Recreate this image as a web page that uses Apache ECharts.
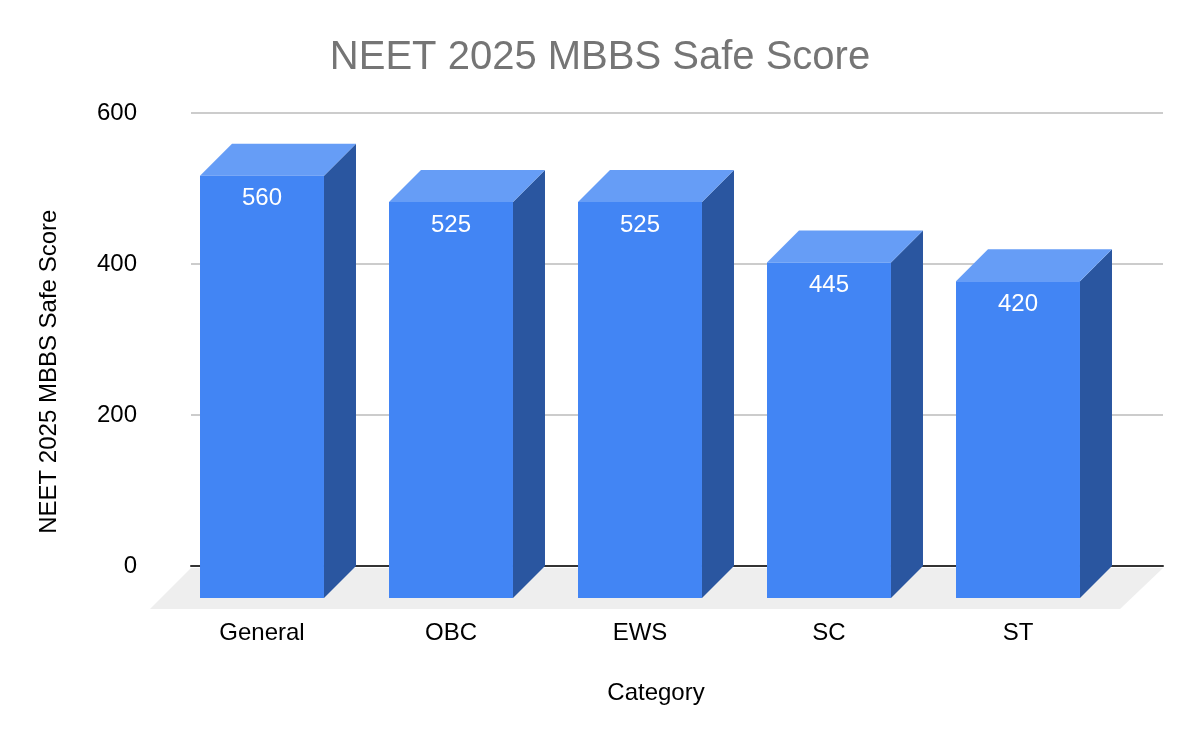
<!DOCTYPE html>
<html>
<head>
<meta charset="utf-8">
<style>html,body{margin:0;padding:0;background:#fff}#c{width:1200px;height:742px}</style>
<script src="https://cdn.jsdelivr.net/npm/echarts@6/dist/echarts.min.js"></script>
</head>
<body>
<div id="c"></div>
<script>
const categories = ['General', 'OBC', 'EWS', 'SC', 'ST'];
const scores = [560, 525, 525, 445, 420];
const yTicks = [0, 200, 400, 600];
const chartTitle = 'NEET 2025 MBBS Safe Score';
const xName = 'Category';
const yName = 'NEET 2025 MBBS Safe Score';

const FONT = '"Liberation Sans", Arial, sans-serif';
const DEPTH = 32;
const BAR_RATIO = 0.656;
const chart = echarts.init(document.getElementById('c'), null, {renderer: 'canvas'});

function renderBar(params, api) {
  const cat = api.value(0), val = api.value(1);
  const top = api.coord([cat, val]);
  const bottom = api.coord([cat, 0]);
  const w = api.size([1, 0])[0] * BAR_RATIO;
  const x0 = top[0] - w / 2, x1 = top[0] + w / 2, yT = top[1], yB = bottom[1];
  const poly = (points, fill) => ({type: 'polygon', shape: {points}, style: {fill, stroke: null}});
  return {
    type: 'group',
    children: [
      poly([[x1, yT], [x1 + DEPTH, yT - DEPTH], [x1 + DEPTH, yB - DEPTH], [x1, yB]], '#2a56a0'),
      poly([[x0, yT], [x0 + DEPTH, yT - DEPTH], [x1 + DEPTH, yT - DEPTH], [x1, yT]], '#669df6'),
      {type: 'rect', shape: {x: x0, y: yT, width: w, height: yB - yT}, style: {fill: '#4285f4'}},
      {type: 'text', style: {text: String(val), x: top[0], y: yT + 23, align: 'center', verticalAlign: 'middle',
        fill: '#ffffff', font: '24px ' + FONT}}
    ]
  };
}

function renderFloor(params, api) {
  const r = params.coordSys;
  const yB = r.y + r.height;
  return {
    type: 'polygon',
    shape: {points: [[r.x, yB + 2], [r.x + r.width, yB + 2], [r.x + r.width - 43, yB + 43], [r.x - 41, yB + 43]]},
    style: {fill: '#eeeeee', stroke: null}
  };
}

chart.setOption({
  animation: false,
  backgroundColor: '#ffffff',
  title: [
    {text: chartTitle, left: 595, top: 33, textAlign: 'center',
      textStyle: {color: '#757575', fontSize: 40, fontWeight: 'normal', fontFamily: FONT}},
    {text: xName, left: 651, top: 676, textAlign: 'center',
      textStyle: {color: '#000000', fontSize: 24, fontWeight: 'normal', fontFamily: FONT}}
  ],
  grid: [
    {left: 191, width: 972, top: 113, height: 453},
    {left: 167.5, width: 945, top: 145.5, height: 452.5}
  ],
  xAxis: [
    {gridIndex: 0, type: 'category', data: categories, axisLabel: {show: false}, axisTick: {show: false},
      axisLine: {show: true, onZero: false, lineStyle: {color: '#333333', width: 2}}},
    {gridIndex: 1, type: 'category', data: categories, axisLine: {show: false}, axisTick: {show: false},
      axisLabel: {color: '#000000', fontSize: 24, fontFamily: FONT, margin: 23}}
  ],
  yAxis: [
    {gridIndex: 0, type: 'value', min: yTicks[0], max: yTicks[yTicks.length - 1], interval: 200,
      axisLine: {show: false}, axisTick: {show: false},
      axisLabel: {color: '#000000', fontSize: 24, fontFamily: FONT, margin: 54, padding: [4, 0, 0, 0]},
      splitLine: {show: true, lineStyle: {color: '#cccccc', width: 2}}},
    {gridIndex: 1, type: 'value', min: yTicks[0], max: yTicks[yTicks.length - 1], interval: 200,
      axisLine: {show: false}, axisTick: {show: false}, axisLabel: {show: false}, splitLine: {show: false},
      name: yName, nameLocation: 'middle', nameGap: 106, nameRotate: 90,
      nameTextStyle: {color: '#000000', fontSize: 24, fontFamily: FONT}}
  ],
  series: [
    {type: 'custom', name: 'floor', xAxisIndex: 0, yAxisIndex: 0, coordinateSystem: 'cartesian2d',
      data: [[0, 0]], renderItem: renderFloor, silent: true, z: 1},
    {type: 'custom', name: 'Safe Score', xAxisIndex: 1, yAxisIndex: 1, coordinateSystem: 'cartesian2d',
      encode: {x: 0, y: 1},
      data: categories.map((c, i) => [i, scores[i]]), renderItem: renderBar, z: 5}
  ]
});
</script>
</body>
</html>
